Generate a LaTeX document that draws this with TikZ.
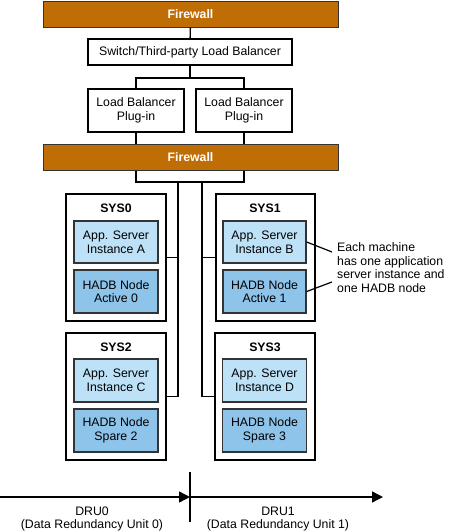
\documentclass[tikz,border=0pt]{standalone}
\usepackage{fontspec}
\setmainfont{Liberation Sans}
\usetikzlibrary{arrows.meta,calc}
\definecolor{fworange}{HTML}{BF6E06}
\definecolor{applight}{HTML}{BDE1F7}
\definecolor{hadbblue}{HTML}{8EC3EA}
\definecolor{edgegray}{HTML}{333333}
\begin{document}
\begin{tikzpicture}[x=1pt,y=-1pt,
  every node/.style={font=\fontsize{12.3}{13.6}\selectfont, align=center, inner sep=0pt},
  firewall/.style={draw=edgegray, line width=1pt, fill=fworange, text=white, font=\fontsize{12.3}{13.6}\selectfont\bfseries, minimum width=295pt, minimum height=26pt},
  plainbox/.style={draw=black, line width=2pt, fill=white},
  sysbox/.style={draw=black, line width=2pt, fill=white, minimum height=127pt},
  appbox/.style={draw=edgegray, line width=1.4pt, fill=applight, minimum width=84pt, minimum height=42pt},
  hadbbox/.style={draw=edgegray, line width=1.4pt, fill=hadbblue, minimum width=84pt, minimum height=43pt},
  syslabel/.style={font=\fontsize{12.3}{13.6}\selectfont\bfseries},
  conn/.style={draw=black, line width=1.4pt},
  axis/.style={draw=black, line width=1.4pt, -{Triangle[length=11pt,width=11pt]}}
]
\useasboundingbox (0,0) rectangle (448,531);

% top
\node[firewall] (fw1) at (190.5,14) {Firewall};
\node[plainbox, minimum width=204pt, minimum height=26pt] (sw) at (190,52) {Switch/Third-party Load Balancer};
\node[plainbox, minimum width=96pt, minimum height=43pt] (lbL) at (136,110.5) {Load Balancer\\Plug-in};
\node[plainbox, minimum width=96pt, minimum height=43pt] (lbR) at (244,110.5) {Load Balancer\\Plug-in};
\node[firewall] (fw2) at (190.5,157) {Firewall};

% systems
\node[sysbox, minimum width=100pt] (sys0) at (116,257.5) {};
\node[sysbox, minimum width=99pt] (sys1) at (265.5,257.5) {};
\node[sysbox, minimum width=100pt] (sys2) at (116,396.5) {};
\node[sysbox, minimum width=100pt] (sys3) at (265,396.5) {};

\node[syslabel] (l0) at (116,208) {SYS0};
\node[syslabel] (l1) at (265,208) {SYS1};
\node[syslabel] (l2) at (116,347) {SYS2};
\node[syslabel] (l3) at (265,347) {SYS3};

\node[appbox] (appA) at (116,242) {App. Server\\Instance A};
\node[hadbbox] (hadb0) at (116,291.5) {HADB Node\\Active 0};
\node[appbox, minimum width=83pt] (appB) at (264.5,242) {App. Server\\Instance B};
\node[hadbbox, minimum width=83pt] (hadb1) at (264.5,291.5) {HADB Node\\Active 1};
\node[appbox, minimum height=43pt] (appC) at (116,380.5) {App. Server\\Instance C};
\node[hadbbox] (hadb2) at (116,430.5) {HADB Node\\Spare 2};
\node[appbox, minimum height=43pt] (appD) at (264.5,380.5) {App. Server\\Instance D};
\node[hadbbox] (hadb3) at (264.5,430.5) {HADB Node\\Spare 3};

% connectors
\coordinate (j1) at (190,78);
\coordinate (j2) at (190,182);
\coordinate (bl) at (178,182);
\coordinate (br) at (202,182);
\draw[conn] (fw1) -- (sw);
\draw[conn] (sw) -- (j1);
\draw[conn] (lbL.north) |- (j1) -| (lbR.north);
\draw[conn] (lbL.south) -- (lbL.south |- fw2.north);
\draw[conn] (lbR.south) -- (lbR.south |- fw2.north);
\draw[conn] (fw2.south -| lbL.south) |- (j2) -| (fw2.south -| lbR.south);
\draw[conn] (bl) |- (sys2.east);
\draw[conn] (sys0.east) -- (sys0.east -| bl);
\draw[conn] (br) |- (sys3.west);
\draw[conn] (sys1.west) -- (sys1.west -| br);

% annotation
\node[anchor=west, align=left] (note) at (337,267.5) {Each machine\\has one application\\server instance and\\one HADB node};
\coordinate (n1) at (332,252);
\coordinate (n2) at (332,282);
\draw[line width=1.2pt] (appB.east) -- (n1);
\draw[line width=1.2pt] (hadb1.east) -- (n2);

% bottom axis
\coordinate (a0) at (0,497);
\coordinate (am) at (190,497);
\coordinate (a1) at (383,497);
\coordinate (tt) at (190,472);
\coordinate (tb) at (190,522);
\draw[axis] (a0) -- (am);
\draw[axis] (am) -- (a1);
\draw[conn] (tt) -- (tb);
\node[anchor=north, font=\fontsize{12.3}{13}\selectfont] (dru0) at (92,506.5) {DRU0\\(Data Redundancy Unit 0)};
\node[anchor=north, font=\fontsize{12.3}{13}\selectfont] (dru1) at (278,506.5) {DRU1\\(Data Redundancy Unit 1)};
\end{tikzpicture}
\end{document}
